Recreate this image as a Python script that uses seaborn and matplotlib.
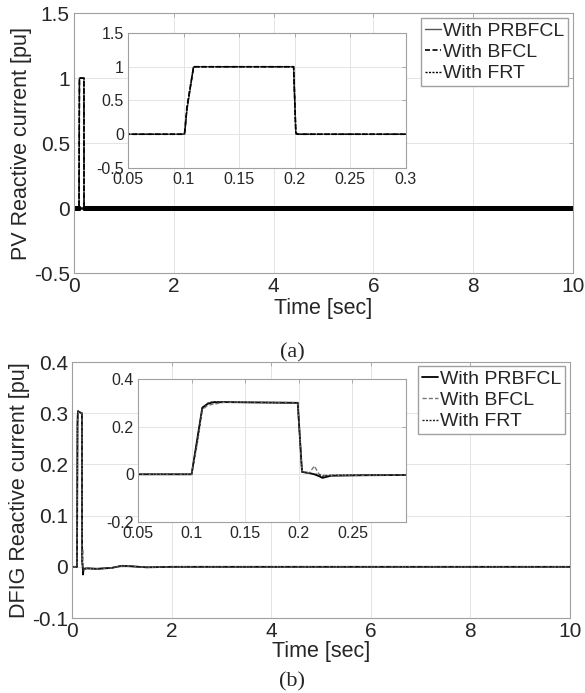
import matplotlib
matplotlib.use("Agg")
import matplotlib.pyplot as plt
import seaborn as sns

# PV reactive current (a)
pv_t = [0, 0.1, 0.101, 0.103, 0.109, 0.199, 0.201, 0.203, 0.25, 0.3, 10]
pv_prbfcl = [0, 0, 0.0, 0.35, 1.0, 1.0, 0.0, 0.0, 0.0, 0.0, 0.0]
pv_bfcl = [0, 0, 0.03, 0.4, 1.0, 1.0, 0.02, 0.0, 0.0, 0.0, 0.0]
pv_frt = [0, 0, 0.02, 0.38, 1.0, 1.0, 0.01, 0.0, 0.0, 0.0, 0.0]

# DFIG reactive current (b)
dfig_t = [0, 0.1, 0.105, 0.11, 0.115, 0.12, 0.13, 0.15, 0.199, 0.203, 0.21, 0.2145,
          0.219, 0.222, 0.23, 0.26, 0.3, 0.5, 0.8, 1.0, 1.2, 1.5, 2.0, 3.0, 10.0]
dfig_prbfcl = [0, 0, 0.14, 0.28, 0.296, 0.302, 0.303, 0.302, 0.3, 0.01, 0.005, 0.0,
               -0.008, -0.015, -0.006, -0.004, -0.003, -0.004, -0.002, 0.002, 0.001,
               -0.001, 0.0, 0.0, 0.0]
dfig_bfcl = [0, 0, 0.12, 0.27, 0.29, 0.294, 0.302, 0.303, 0.301, 0.012, 0.006, 0.035,
             0.0, -0.004, -0.005, -0.004, -0.003, -0.004, -0.002, 0.002, 0.001,
             -0.001, 0.0, 0.0, 0.0]
dfig_frt = [0, 0, 0.13, 0.275, 0.298, 0.305, 0.304, 0.302, 0.3, 0.011, 0.004, 0.002,
            -0.002, -0.008, -0.004, -0.003, -0.003, -0.004, -0.002, 0.002, 0.001,
            -0.001, 0.0, 0.0, 0.0]

labels = ["With PRBFCL", "With BFCL", "With FRT"]
main_xticks = [0, 2, 4, 6, 8, 10]
pv_yticks = [-0.5, 0, 0.5, 1, 1.5]
dfig_yticks = [-0.1, 0, 0.1, 0.2, 0.3, 0.4]
inset_xticks_a = [0.05, 0.1, 0.15, 0.2, 0.25, 0.3]
inset_xticks_b = [0.05, 0.1, 0.15, 0.2, 0.25]
pv_inset_yticks = [-0.5, 0, 0.5, 1, 1.5]
dfig_inset_yticks = [-0.2, 0, 0.2, 0.4]

sns.set_style("white")
plt.rcParams["font.family"] = ["Liberation Sans", "DejaVu Sans"]
plt.rcParams["axes.unicode_minus"] = False

fig = plt.figure(figsize=(5.85, 6.93), dpi=100)

frame = "#a0a0a0"
gridc = "#e4e4e4"


def style_axes(ax, xt, yt, xlim, ylim, fs):
    ax.set_xlim(xlim)
    ax.set_ylim(ylim)
    ax.set_xticks(xt)
    ax.set_yticks(yt)
    ax.set_xticklabels([f"{v:g}" for v in xt])
    ax.set_yticklabels([f"{v:g}" for v in yt])
    ax.tick_params(direction="in", length=3, width=0.6, color=frame,
                   labelsize=fs, top=True, right=True, pad=3)
    ax.grid(True, color=gridc, linewidth=0.7)
    for s in ax.spines.values():
        s.set_color(frame)
        s.set_linewidth(0.8)
    ax.set_xlabel("")
    ax.set_ylabel("")


styles_a = [("#555555", "-", 1.0), ("black", (0, (3, 1.5)), 1.2), ("black", (0, (1.5, 1)), 1.0)]
styles_b = [("black", "-", 1.3), ("#777777", (0, (3, 1.5)), 1.0), ("#222222", (0, (1.5, 1)), 1.0)]

# ---------- panel (a)
ax1 = fig.add_axes([0.1265, 0.606, 0.853, 0.375])
for vals, (c, ls, lw), lab in zip([pv_prbfcl, pv_bfcl, pv_frt], styles_a, labels):
    sns.lineplot(x=pv_t, y=vals, ax=ax1, color=c, linestyle=ls, linewidth=lw, label=lab)
# thick band of steady state ripple around zero
for vals in [pv_prbfcl]:
    pre = [(t, v) for t, v in zip(pv_t, vals) if t <= 0.1]
    post = [(t, v) for t, v in zip(pv_t, vals) if t >= 0.203]
    for seg in (pre, post):
        sns.lineplot(x=[p[0] for p in seg], y=[p[1] for p in seg], ax=ax1,
                     color="black", linewidth=3.6, legend=False)
style_axes(ax1, main_xticks, pv_yticks, (0, 10), (-0.5, 1.5), 15)
ax1.set_xlabel("Time [sec]", fontsize=15.5, labelpad=1)
ax1.set_ylabel("PV Reactive current [pu]", fontsize=15.5, labelpad=1)
ax1.legend(loc="upper right", bbox_to_anchor=(568 / 585, 1 - 18 / 693),
           bbox_transform=fig.transFigure, borderaxespad=0, fontsize=14,
           handlelength=0.8, handletextpad=0.1, labelspacing=0.2,
           borderpad=0.2, fancybox=False, framealpha=1, edgecolor=frame)

in1 = fig.add_axes([0.2188, 0.7576, 0.475, 0.1948])
for vals, (c, ls, lw) in zip([pv_prbfcl, pv_bfcl, pv_frt], styles_a):
    sns.lineplot(x=pv_t, y=vals, ax=in1, color=c, linestyle=ls, linewidth=lw, legend=False)
style_axes(in1, inset_xticks_a, pv_inset_yticks, (0.05, 0.3), (-0.5, 1.5), 11.5)

fig.text(0.5, 1 - 353 / 693, "(a)", ha="center", va="center", fontsize=16,
         family=["Liberation Serif", "DejaVu Serif"])

# ---------- panel (b)
ax2 = fig.add_axes([0.1231, 0.1082, 0.8513, 0.3694])
for vals, (c, ls, lw), lab in zip([dfig_prbfcl, dfig_bfcl, dfig_frt], styles_b, labels):
    sns.lineplot(x=dfig_t, y=vals, ax=ax2, color=c, linestyle=ls, linewidth=lw, label=lab)
style_axes(ax2, main_xticks, dfig_yticks, (0, 10), (-0.1, 0.4), 15)
ax2.set_xlabel("Time [sec]", fontsize=15.5, labelpad=0)
ax2.set_ylabel("DFIG Reactive current [pu]", fontsize=15.5, labelpad=1)
ax2.legend(loc="upper right", bbox_to_anchor=(565 / 585, 1 - 366 / 693),
           bbox_transform=fig.transFigure, borderaxespad=0, fontsize=14,
           handlelength=0.8, handletextpad=0.1, labelspacing=0.2,
           borderpad=0.2, fancybox=False, framealpha=1, edgecolor=frame)

in2 = fig.add_axes([0.2359, 0.2468, 0.4581, 0.2063])
for vals, (c, ls, lw) in zip([dfig_prbfcl, dfig_bfcl, dfig_frt], styles_b):
    sns.lineplot(x=dfig_t, y=vals, ax=in2, color=c, linestyle=ls, linewidth=lw, legend=False)
style_axes(in2, inset_xticks_b, dfig_inset_yticks, (0.05, 0.3), (-0.2, 0.4), 11.5)

fig.text(0.5, 1 - 682 / 693, "(b)", ha="center", va="center", fontsize=16,
         family=["Liberation Serif", "DejaVu Serif"])

fig.savefig("out.png", dpi=100)
